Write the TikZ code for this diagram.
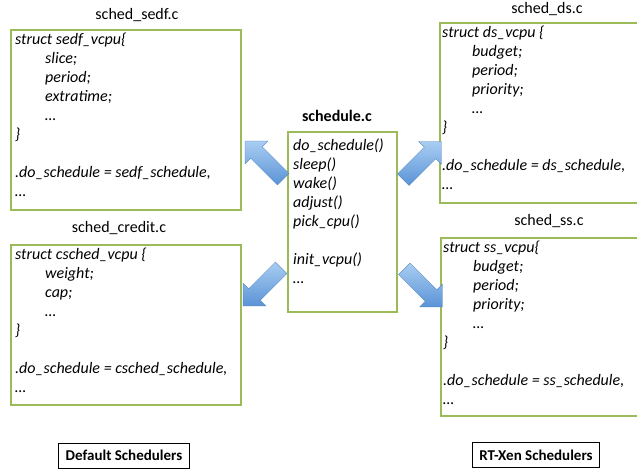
\documentclass[tikz,border=0pt]{standalone}
\usepackage{fontspec}
\setmainfont{Carlito}
\usetikzlibrary{shapes.arrows,positioning}
\definecolor{boxgreen}{HTML}{9BBB59}
\definecolor{arrowlight}{HTML}{A9CDF2}
\definecolor{arrowdark}{HTML}{5A93D6}
\tikzset{
  srcbox/.style={draw=boxgreen, line width=1.8pt, fill=white, anchor=north west, inner sep=0pt},
  code/.style={anchor=north west, inner sep=0pt, align=left, font=\fontsize{16}{19}\selectfont\itshape},
  fname/.style={inner sep=0pt, font=\fontsize{16}{19}\selectfont},
  legend/.style={draw=black, line width=1pt, inner xsep=7pt, inner ysep=0pt, minimum height=25pt, font=\fontsize{15}{18}\selectfont\bfseries},
  blockarrow/.style={single arrow, single arrow head extend=8pt, single arrow tip angle=90, inner sep=8pt, minimum height=54pt, top color=arrowlight, bottom color=arrowdark, draw=arrowdark!85!black, line width=0.3pt}
}
\newcommand{\ind}{\hspace*{30pt}}
\begin{document}
\begin{tikzpicture}[x=1pt,y=-1pt]
\useasboundingbox (0,0) rectangle (637,471);
\clip (0,0) rectangle (637,471);

% boxes
\node[srcbox, minimum width=230pt, minimum height=180pt] (sedf) at (10,29) {};
\node[srcbox, minimum width=230pt, minimum height=160pt] (credit) at (10,244) {};
\node[srcbox, minimum width=109pt, minimum height=180pt] (sched) at (287,131) {};
\node[srcbox, minimum width=216pt, minimum height=180pt] (ds) at (439,22) {};
\node[srcbox, minimum width=216pt, minimum height=178pt] (ss) at (440,237) {};

% file names
\node[fname] (sedflbl) at (137,15) {sched\_sedf.c};
\node[fname] (creditlbl) at (119,228) {sched\_credit.c};
\node[fname, font=\fontsize{16}{19}\selectfont\bfseries] (schedlbl) at (337,116) {schedule.c};
\node[fname] (dslbl) at (547,9) {sched\_ds.c};
\node[fname] (sslbl) at (549,221) {sched\_ss.c};

% contents
\node[code] (sedftxt) at ([shift={(5,4)}]sedf.north west) {struct sedf\_vcpu\{\\
\ind slice;\\
\ind period;\\
\ind extratime;\\
\ind …\\
\}\\[19pt]
.do\_schedule = sedf\_schedule,\\
…};

\node[code] (credittxt) at ([shift={(5,4)}]credit.north west) {struct csched\_vcpu \{\\
\ind weight;\\
\ind cap;\\
\ind …\\
\}\\[19pt]
.do\_schedule = csched\_schedule,\\
…};

\node[code] (schedtxt) at ([shift={(6,8)}]sched.north west) {do\_schedule()\\
sleep()\\
wake()\\
adjust()\\
pick\_cpu()\\[19pt]
init\_vcpu()\\
…};

\node[code] (dstxt) at ([shift={(3,4)}]ds.north west) {struct ds\_vcpu \{\\
\ind budget;\\
\ind period;\\
\ind priority;\\
\ind …\\
\}\\[19pt]
.do\_schedule = ds\_schedule,\\
…};

\node[code] (sstxt) at ([shift={(3,4)}]ss.north west) {struct ss\_vcpu\{\\
\ind budget;\\
\ind period;\\
\ind priority;\\
\ind …\\
\}\\[19pt]
.do\_schedule = ss\_schedule,\\
…};

% block arrows
\node[blockarrow, rotate=135] (arUL) at (267,163) {};
\node[blockarrow, rotate=45] (arUR) at (419.5,163.5) {};
\node[blockarrow, rotate=225] (arLL) at (265,284) {};
\node[blockarrow, rotate=-45] (arLR) at (420.5,285) {};

% legends
\node[legend] (defleg) at (124,455.5) {Default Schedulers};
\node[legend] (rtleg) at (536,455) {RT-Xen Schedulers};
\end{tikzpicture}
\end{document}
